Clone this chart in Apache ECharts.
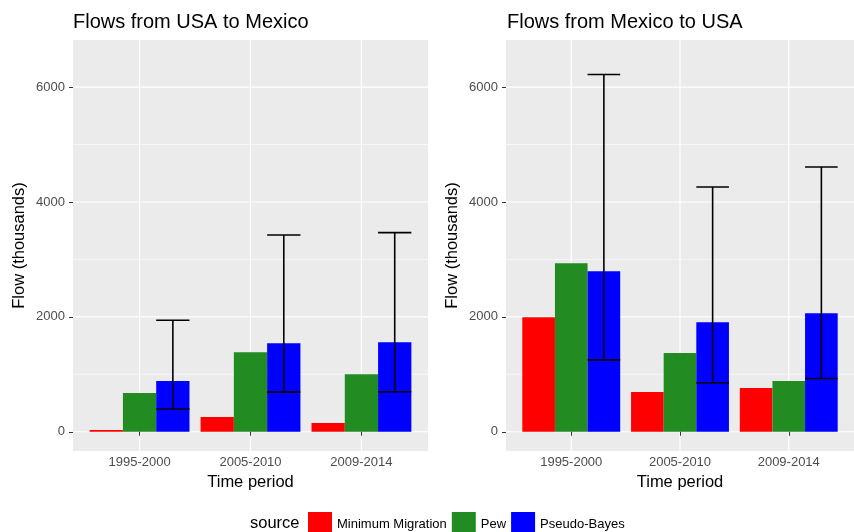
<!DOCTYPE html>
<html><head><meta charset="utf-8">
<script src="https://cdn.jsdelivr.net/npm/echarts@6/dist/echarts.min.js"></script>
<style>html,body{margin:0;padding:0;background:#fff}#c{width:854px;height:532px}</style>
</head><body><div id="c"></div><script>
const categories = ['1995-2000', '2005-2010', '2009-2014'];
const sources = ['Minimum Migration', 'Pew', 'Pseudo-Bayes'];
const panelTitles = ['Flows from USA to Mexico', 'Flows from Mexico to USA'];
// USA -> Mexico
const usaMexMin = [30, 256, 151];
const usaMexPew = [673, 1386, 1003];
const usaMexPB = [882, 1542, 1560];
const usaMexPBLow = [395, 690, 696];
const usaMexPBHigh = [1942, 3424, 3467];
// Mexico -> USA
const mexUsaMin = [1995, 690, 760];
const mexUsaPew = [2934, 1369, 882];
const mexUsaPB = [2795, 1908, 2064];
const mexUsaPBLow = [1252, 852, 928];
const mexUsaPBHigh = [6220, 4261, 4609];
// axis ticks
const yTicks = [0, 2000, 4000, 6000];
const yMinor = [1000, 3000, 5000];
const xTicks = [1, 2, 3];

const colors = ['#FF0000', '#228B22', '#0000FF'];
const FONT = 'Liberation Sans, Arial, Helvetica, sans-serif';

const panels = [
  {vals: [usaMexMin, usaMexPew, usaMexPB], lo: usaMexPBLow, hi: usaMexPBHigh},
  {vals: [mexUsaMin, mexUsaPew, mexUsaPB], lo: mexUsaPBLow, hi: mexUsaPBHigh}
];

function barRender(k) {
  return function (params, api) {
    const c = api.value(0), v = api.value(1);
    const x0 = c - 0.45 + 0.3 * k;
    const p0 = api.coord([x0, v]);
    const p1 = api.coord([x0 + 0.3, 0]);
    return {type: 'rect', shape: {x: p0[0], y: p0[1], width: p1[0] - p0[0], height: p1[1] - p0[1]},
      style: {fill: colors[k]}};
  };
}
function errRender(params, api) {
  const c = api.value(0) + 0.3, lo = api.value(1), hi = api.value(2);
  const a = api.coord([c, lo]), b = api.coord([c, hi]);
  const l = api.coord([c - 0.15, lo])[0], r = api.coord([c + 0.15, lo])[0];
  const st = {stroke: '#000', lineWidth: 1.6};
  return {type: 'group', children: [
    {type: 'line', shape: {x1: a[0], y1: a[1], x2: b[0], y2: b[1]}, style: st},
    {type: 'line', shape: {x1: l, y1: a[1], x2: r, y2: a[1]}, style: st},
    {type: 'line', shape: {x1: l, y1: b[1], x2: r, y2: b[1]}, style: st}
  ]};
}
function hLineRender(w) {
  return function (params, api) {
    const cs = params.coordSys;
    const y = api.coord([1, api.value(1)])[1];
    return {type: 'line', shape: {x1: cs.x, y1: y, x2: cs.x + cs.width, y2: y},
      style: {stroke: '#FFFFFF', lineWidth: w}};
  };
}
function vLineRender(params, api) {
  const cs = params.coordSys;
  const x = api.coord([api.value(0), 0])[0];
  return {type: 'line', shape: {x1: x, y1: cs.y, x2: x, y2: cs.y + cs.height},
    style: {stroke: '#FFFFFF', lineWidth: 1.2}};
}

const grids = [
  {left: 73, top: 40, width: 355, height: 411, show: true, backgroundColor: '#EBEBEB', borderWidth: 0},
  {left: 506, top: 40, width: 357, height: 411, show: true, backgroundColor: '#EBEBEB', borderWidth: 0}
];
const xAxes = [0, 1].map(g => ({
  type: 'value', gridIndex: g, min: 0.4, max: 3.6,
  splitLine: {show: false}, axisLine: {show: false},
  axisTick: {show: true, customValues: xTicks, length: 4, lineStyle: {color: '#333333', width: 1}},
  axisLabel: {customValues: xTicks, formatter: v => categories[Math.round(v) - 1],
    color: '#4D4D4D', fontSize: 13, margin: 5, fontFamily: FONT},
  name: 'Time period', nameLocation: 'middle', nameGap: 23,
  nameTextStyle: {fontSize: 16.5, color: '#000', fontFamily: FONT}
}));
const yAxes = [0, 1].map(g => ({
  type: 'value', gridIndex: g, min: -335, max: 6820,
  splitLine: {show: false}, axisLine: {show: false},
  axisTick: {show: true, customValues: yTicks, length: 4, lineStyle: {color: '#333333', width: 1}},
  axisLabel: {customValues: yTicks, formatter: v => String(v), color: '#4D4D4D', fontSize: 13, margin: 8, fontFamily: FONT},
  name: 'Flow (thousands)', nameLocation: 'middle', nameGap: 45,
  nameTextStyle: {fontSize: 16.5, color: '#000', fontFamily: FONT}
}));

const series = [];
panels.forEach((p, g) => {
  series.push({type: 'custom', xAxisIndex: g, yAxisIndex: g, z: 0, silent: true,
    renderItem: hLineRender(1.2), encode: {x: 0, y: 1}, data: yTicks.map(v => [1, v])});
  series.push({type: 'custom', xAxisIndex: g, yAxisIndex: g, z: 0, silent: true,
    renderItem: hLineRender(0.6), encode: {x: 0, y: 1}, data: yMinor.map(v => [1, v])});
  series.push({type: 'custom', xAxisIndex: g, yAxisIndex: g, z: 0, silent: true,
    renderItem: vLineRender, encode: {x: 0, y: 1}, data: xTicks.map(v => [v, 0])});
  p.vals.forEach((arr, k) => {
    series.push({type: 'custom', name: sources[k], xAxisIndex: g, yAxisIndex: g, z: 2,
      itemStyle: {color: colors[k]}, renderItem: barRender(k), encode: {x: 0, y: 1},
      data: arr.map((v, i) => [i + 1, v])});
  });
  series.push({type: 'custom', xAxisIndex: g, yAxisIndex: g, z: 3,
    renderItem: errRender, encode: {x: 0, y: [1, 2]},
    data: p.lo.map((v, i) => [i + 1, v, p.hi[i]])});
});

const chart = echarts.init(document.getElementById('c'), null, {renderer: 'canvas'});
chart.setOption({
  animation: false,
  textStyle: {fontFamily: FONT},
  title: [
    {text: panelTitles[0], left: 73, top: 12, padding: 0, textStyle: {fontSize: 20, fontWeight: 'normal', color: '#000', fontFamily: FONT}},
    {text: panelTitles[1], left: 507, top: 12, padding: 0, textStyle: {fontSize: 20, fontWeight: 'normal', color: '#000', fontFamily: FONT}}
  ],
  legend: {left: 308, top: 512, itemWidth: 24, itemHeight: 24, itemGap: 5, padding: 0, icon: 'rect',
    data: sources, selectedMode: false, textStyle: {fontSize: 13, color: '#000', fontFamily: FONT}},
  graphic: [{type: 'text', left: 250, top: 515, style: {text: 'source', fontSize: 16.5, fill: '#000', fontFamily: FONT}}],
  grid: grids, xAxis: xAxes, yAxis: yAxes, series: series
});
</script></body></html>
